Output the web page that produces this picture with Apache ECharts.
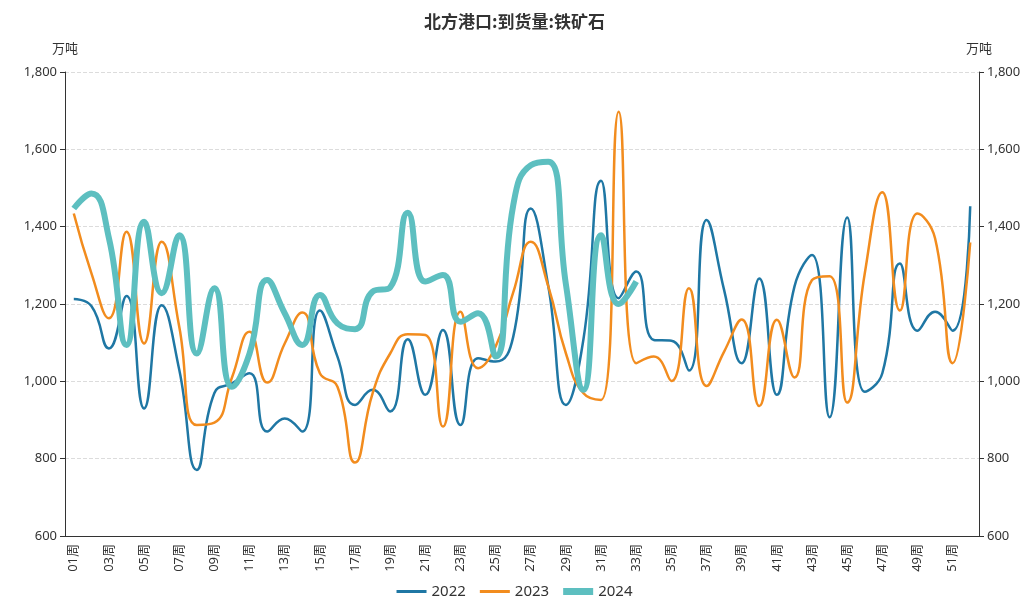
<!DOCTYPE html>
<html>
<head>
<meta charset="utf-8">
<script src="https://cdn.jsdelivr.net/npm/echarts@6/dist/echarts.min.js"></script>
<style>html,body{margin:0;padding:0;background:#fff}#c{width:1029px;height:607px}</style>
</head>
<body>
<div id="c"></div>
<script>
const weeks = [];
for (let i = 1; i <= 52; i++) weeks.push((i < 10 ? '0' + i : '' + i) + '周');

const s2022 = [1213,1195,1085,1221,930,1197,1030,771,970,995,1021,870,904,870,1183,1064,939,978,922,1109,965,1133,887,1060,1051,1115,1447,1245,939,1110,1519,1215,1284,1107,1105,1028,1417,1236,1047,1266,965,1245,1327,907,1424,973,1021,1305,1131,1180,1131,1453];
const s2023 = [1434,1280,1163,1387,1098,1361,1141,887,893,1010,1128,997,1098,1178,1021,986,790,969,1072,1122,1120,883,1180,1034,1090,1230,1361,1245,1072,969,952,1697,1047,1064,1001,1241,988,1077,1160,936,1159,1010,1262,1272,945,1279,1489,1183,1434,1370,1047,1359];
const s2024 = [1447,1486,1370,1094,1413,1228,1378,1072,1241,986,1072,1262,1176,1094,1223,1150,1135,1232,1243,1436,1258,1275,1154,1176,1064,1455,1559,1568,1250,978,1378,1200,1258];

const chart = echarts.init(document.getElementById('c'));
const fontFam = '"Noto Sans", "Noto Sans CJK SC", sans-serif';
const axisLab = { color: '#333', fontSize: 13, fontFamily: fontFam, formatter: v => v.toLocaleString('en-US') };
const thinIcon = 'path://M0,0 L0.01,0 M0,3.6 L30,3.6 L30,6.4 L0,6.4 Z M29.99,10 L30,10';
const thickIcon = 'path://M0,0 L0.01,0 M0,1.5 L30,1.5 L30,8.5 L0,8.5 Z M29.99,10 L30,10';
chart.setOption({
  animation: false,
  textStyle: { fontFamily: fontFam },
  title: { text: '北方港口:到货量:铁矿石', left: 'center', top: 8,
    textStyle: { fontSize: 17, fontWeight: 'bold', color: '#333', fontFamily: '"Noto Sans CJK SC", sans-serif' } },
  color: ['#1f77a4', '#f28c1e', '#5dbfc0'],
  grid: { left: 65, right: 50, top: 72, bottom: 71, containLabel: false },
  legend: { bottom: 3, left: 'center', itemWidth: 30, itemHeight: 10, itemGap: 14,
    textStyle: { fontSize: 15, color: '#333' },
    data: [
      { name: '2022', icon: thinIcon },
      { name: '2023', icon: thinIcon },
      { name: '2024', icon: thickIcon }
    ] },
  xAxis: {
    type: 'category', data: weeks, boundaryGap: true,
    axisLine: { lineStyle: { color: '#333' } },
    axisTick: { alignWithLabel: true, interval: 0, lineStyle: { color: '#333' } },
    axisLabel: { rotate: 90, interval: 1, color: '#333', fontSize: 13, margin: 8 }
  },
  yAxis: [
    { type: 'value', min: 600, max: 1800, interval: 200, name: '万吨', nameGap: 16,
      nameTextStyle: { color: '#333', fontSize: 13, align: 'center' },
      axisLine: { show: true, lineStyle: { color: '#333' } },
      axisTick: { show: true, lineStyle: { color: '#333' } },
      axisLabel: axisLab,
      splitLine: { show: true, lineStyle: { type: 'dashed', color: '#dcdcdc' } } },
    { type: 'value', min: 600, max: 1800, interval: 200, name: '万吨', nameGap: 16, position: 'right',
      nameTextStyle: { color: '#333', fontSize: 13, align: 'center' },
      axisLine: { show: true, lineStyle: { color: '#333' } },
      axisTick: { show: true, lineStyle: { color: '#333' } },
      axisLabel: axisLab,
      splitLine: { show: false } }
  ],
  series: [
    { name: '2022', type: 'line', data: s2022, smooth: true, showSymbol: false, symbol: 'none', lineStyle: { width: 2.5 } },
    { name: '2023', type: 'line', data: s2023, smooth: true, showSymbol: false, symbol: 'none', lineStyle: { width: 2.5 } },
    { name: '2024', type: 'line', data: s2024, smooth: true, showSymbol: false, symbol: 'none', lineStyle: { width: 6 } }
  ]
});
</script>
</body>
</html>
